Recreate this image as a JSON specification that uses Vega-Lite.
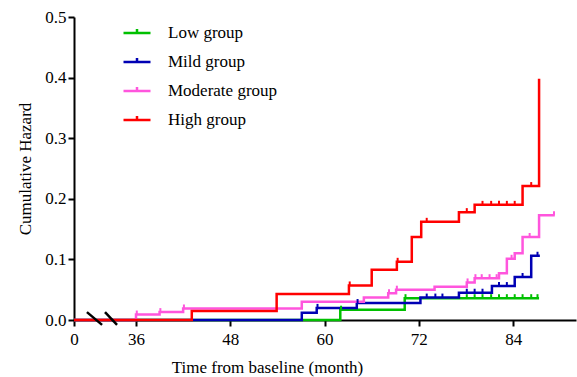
{
  "$schema": "https://vega.github.io/schema/vega-lite/v6.json",
  "width": 502,
  "height": 303,
  "autosize": "none",
  "padding": {"left": 74, "top": 17, "right": 1, "bottom": 57},
  "background": "white",
  "config": {"view": {"stroke": null}, "font": "Liberation Serif", "axis": {"labelFont": "Liberation Serif", "titleFont": "Liberation Serif"}, "legend": {"labelFont": "Liberation Serif"}},
  "datasets": {
    "curves": [
      {"group": "Low group", "month": 0, "hazard": 0},
      {"group": "Low group", "month": 62.0, "hazard": 0.017},
      {"group": "Low group", "month": 70.2, "hazard": 0.036},
      {"group": "Low group", "month": 87.3, "hazard": 0.036},
      {"group": "Mild group", "month": 0, "hazard": 0},
      {"group": "Mild group", "month": 57.1, "hazard": 0.012},
      {"group": "Mild group", "month": 59.0, "hazard": 0.020},
      {"group": "Mild group", "month": 64.1, "hazard": 0.028},
      {"group": "Mild group", "month": 72.2, "hazard": 0.037},
      {"group": "Mild group", "month": 77.1, "hazard": 0.045},
      {"group": "Mild group", "month": 81.3, "hazard": 0.056},
      {"group": "Mild group", "month": 84.2, "hazard": 0.071},
      {"group": "Mild group", "month": 86.3, "hazard": 0.106},
      {"group": "Mild group", "month": 87.4, "hazard": 0.106},
      {"group": "Moderate group", "month": 0, "hazard": 0},
      {"group": "Moderate group", "month": 36.0, "hazard": 0.009},
      {"group": "Moderate group", "month": 39.0, "hazard": 0.013},
      {"group": "Moderate group", "month": 42.0, "hazard": 0.019},
      {"group": "Moderate group", "month": 57.1, "hazard": 0.030},
      {"group": "Moderate group", "month": 65.0, "hazard": 0.037},
      {"group": "Moderate group", "month": 68.1, "hazard": 0.044},
      {"group": "Moderate group", "month": 69.1, "hazard": 0.050},
      {"group": "Moderate group", "month": 74.0, "hazard": 0.055},
      {"group": "Moderate group", "month": 78.1, "hazard": 0.062},
      {"group": "Moderate group", "month": 79.1, "hazard": 0.069},
      {"group": "Moderate group", "month": 82.2, "hazard": 0.077},
      {"group": "Moderate group", "month": 83.2, "hazard": 0.101},
      {"group": "Moderate group", "month": 84.2, "hazard": 0.110},
      {"group": "Moderate group", "month": 85.2, "hazard": 0.137},
      {"group": "Moderate group", "month": 87.3, "hazard": 0.173},
      {"group": "Moderate group", "month": 89.3, "hazard": 0.173},
      {"group": "High group", "month": 0, "hazard": 0},
      {"group": "High group", "month": 43.1, "hazard": 0.015},
      {"group": "High group", "month": 53.9, "hazard": 0.043},
      {"group": "High group", "month": 63.1, "hazard": 0.057},
      {"group": "High group", "month": 66.0, "hazard": 0.083},
      {"group": "High group", "month": 69.2, "hazard": 0.096},
      {"group": "High group", "month": 71.1, "hazard": 0.137},
      {"group": "High group", "month": 72.3, "hazard": 0.162},
      {"group": "High group", "month": 77.1, "hazard": 0.178},
      {"group": "High group", "month": 79.1, "hazard": 0.190},
      {"group": "High group", "month": 85.2, "hazard": 0.221},
      {"group": "High group", "month": 87.3, "hazard": 0.398}
    ],
    "censor": [
      {"group": "Low group", "month": 62.1, "hazard": 0.017},
      {"group": "Low group", "month": 70.3, "hazard": 0.036},
      {"group": "Low group", "month": 78.1, "hazard": 0.036},
      {"group": "Low group", "month": 79.1, "hazard": 0.036},
      {"group": "Low group", "month": 80.1, "hazard": 0.036},
      {"group": "Low group", "month": 81.2, "hazard": 0.036},
      {"group": "Low group", "month": 82.2, "hazard": 0.036},
      {"group": "Low group", "month": 83.2, "hazard": 0.036},
      {"group": "Low group", "month": 84.2, "hazard": 0.036},
      {"group": "Low group", "month": 85.2, "hazard": 0.036},
      {"group": "Low group", "month": 86.3, "hazard": 0.036},
      {"group": "Low group", "month": 87.1, "hazard": 0.036},
      {"group": "Mild group", "month": 59.1, "hazard": 0.020},
      {"group": "Mild group", "month": 64.2, "hazard": 0.028},
      {"group": "Mild group", "month": 73.0, "hazard": 0.037},
      {"group": "Mild group", "month": 74.1, "hazard": 0.037},
      {"group": "Mild group", "month": 75.0, "hazard": 0.037},
      {"group": "Mild group", "month": 78.1, "hazard": 0.045},
      {"group": "Mild group", "month": 79.1, "hazard": 0.045},
      {"group": "Mild group", "month": 80.1, "hazard": 0.045},
      {"group": "Mild group", "month": 82.2, "hazard": 0.056},
      {"group": "Mild group", "month": 83.2, "hazard": 0.056},
      {"group": "Mild group", "month": 85.2, "hazard": 0.071},
      {"group": "Mild group", "month": 87.1, "hazard": 0.106},
      {"group": "Moderate group", "month": 36.1, "hazard": 0.009},
      {"group": "Moderate group", "month": 39.1, "hazard": 0.013},
      {"group": "Moderate group", "month": 42.1, "hazard": 0.019},
      {"group": "Moderate group", "month": 68.2, "hazard": 0.044},
      {"group": "Moderate group", "month": 69.2, "hazard": 0.050},
      {"group": "Moderate group", "month": 78.2, "hazard": 0.062},
      {"group": "Moderate group", "month": 79.2, "hazard": 0.069},
      {"group": "Moderate group", "month": 80.0, "hazard": 0.069},
      {"group": "Moderate group", "month": 81.0, "hazard": 0.069},
      {"group": "Moderate group", "month": 81.9, "hazard": 0.069},
      {"group": "Moderate group", "month": 83.8, "hazard": 0.101},
      {"group": "Moderate group", "month": 86.1, "hazard": 0.137},
      {"group": "Moderate group", "month": 89.2, "hazard": 0.173},
      {"group": "High group", "month": 63.2, "hazard": 0.057},
      {"group": "High group", "month": 69.3, "hazard": 0.096},
      {"group": "High group", "month": 73.0, "hazard": 0.162},
      {"group": "High group", "month": 78.1, "hazard": 0.178},
      {"group": "High group", "month": 80.1, "hazard": 0.190},
      {"group": "High group", "month": 81.2, "hazard": 0.190},
      {"group": "High group", "month": 82.2, "hazard": 0.190},
      {"group": "High group", "month": 83.2, "hazard": 0.190},
      {"group": "High group", "month": 84.2, "hazard": 0.190},
      {"group": "High group", "month": 86.3, "hazard": 0.221}
    ],
    "breaks": [
      {"m1": 7.5, "m2": 16.3, "h1": 0.013, "h2": -0.008},
      {"m1": 18.0, "m2": 25.0, "h1": 0.013, "h2": -0.008}
    ]
  },
  "layer": [
    {
      "data": {"name": "curves"},
      "mark": {"type": "line", "interpolate": "step-after", "strokeWidth": 2.5, "clip": false},
      "encoding": {
        "x": {
          "field": "month", "type": "quantitative",
          "scale": {"domain": [0, 36, 92], "range": [0, 62, 502], "nice": false, "zero": false},
          "axis": {
            "values": [0, 36, 48, 60, 72, 84],
            "title": "Time from baseline (month)",
            "titleFont": "Liberation Serif", "titleFontSize": 17, "titleFontWeight": "normal", "titleColor": "#000",
            "titleX": 193, "titleY": 52, "titleBaseline": "alphabetic", "titleAnchor": "middle",
            "labelFont": "Liberation Serif", "labelFontSize": 17, "labelColor": "#000", "labelPadding": 5,
            "domainColor": "#000", "domainWidth": 2, "tickColor": "#000", "tickWidth": 2, "tickSize": 6,
            "grid": false, "labelFlush": false, "labelOverlap": false
          }
        },
        "y": {
          "field": "hazard", "type": "quantitative",
          "scale": {"domain": [0, 0.5], "nice": false},
          "axis": {
            "values": [0, 0.1, 0.2, 0.3, 0.4, 0.5], "format": ".1f",
            "title": "Cumulative Hazard",
            "titleFont": "Liberation Serif", "titleFontSize": 17, "titleFontWeight": "normal", "titleColor": "#000",
            "titleX": -49, "titleBaseline": "middle",
            "labelFont": "Liberation Serif", "labelFontSize": 17, "labelColor": "#000", "labelPadding": 2,
            "domainColor": "#000", "domainWidth": 2, "tickColor": "#000", "tickWidth": 2, "tickSize": 6,
            "grid": false, "labelFlush": false, "labelOverlap": false
          }
        },
        "color": {
          "field": "group", "type": "nominal",
          "scale": {"domain": ["Low group", "Mild group", "Moderate group", "High group"],
                    "range": ["#00C000", "#0000B4", "#FF55DD", "#FF0000"]},
          "legend": {
            "orient": "none", "legendX": 48, "legendY": 1, "title": null,
            "symbolType": "M-1,0H1M0,0V-0.3", "symbolSize": 729, "symbolStrokeWidth": 2.5,
            "labelFont": "Liberation Serif", "labelFontSize": 17, "labelColor": "#000",
            "rowPadding": 6, "labelOffset": 16
          }
        }
      }
    },
    {
      "data": {"name": "censor"},
      "mark": {"type": "point", "shape": "M0,0V-1", "size": 64, "filled": false, "strokeWidth": 2, "opacity": 1, "clip": false},
      "encoding": {
        "x": {"field": "month", "type": "quantitative"},
        "y": {"field": "hazard", "type": "quantitative"},
        "color": {"field": "group", "type": "nominal", "legend": null}
      }
    },
    {
      "data": {"name": "breaks"},
      "mark": {"type": "rule", "color": "#000", "strokeWidth": 2.5, "clip": false},
      "encoding": {
        "x": {"field": "m1", "type": "quantitative"},
        "x2": {"field": "m2"},
        "y": {"field": "h1", "type": "quantitative"},
        "y2": {"field": "h2"}
      }
    }
  ]
}
